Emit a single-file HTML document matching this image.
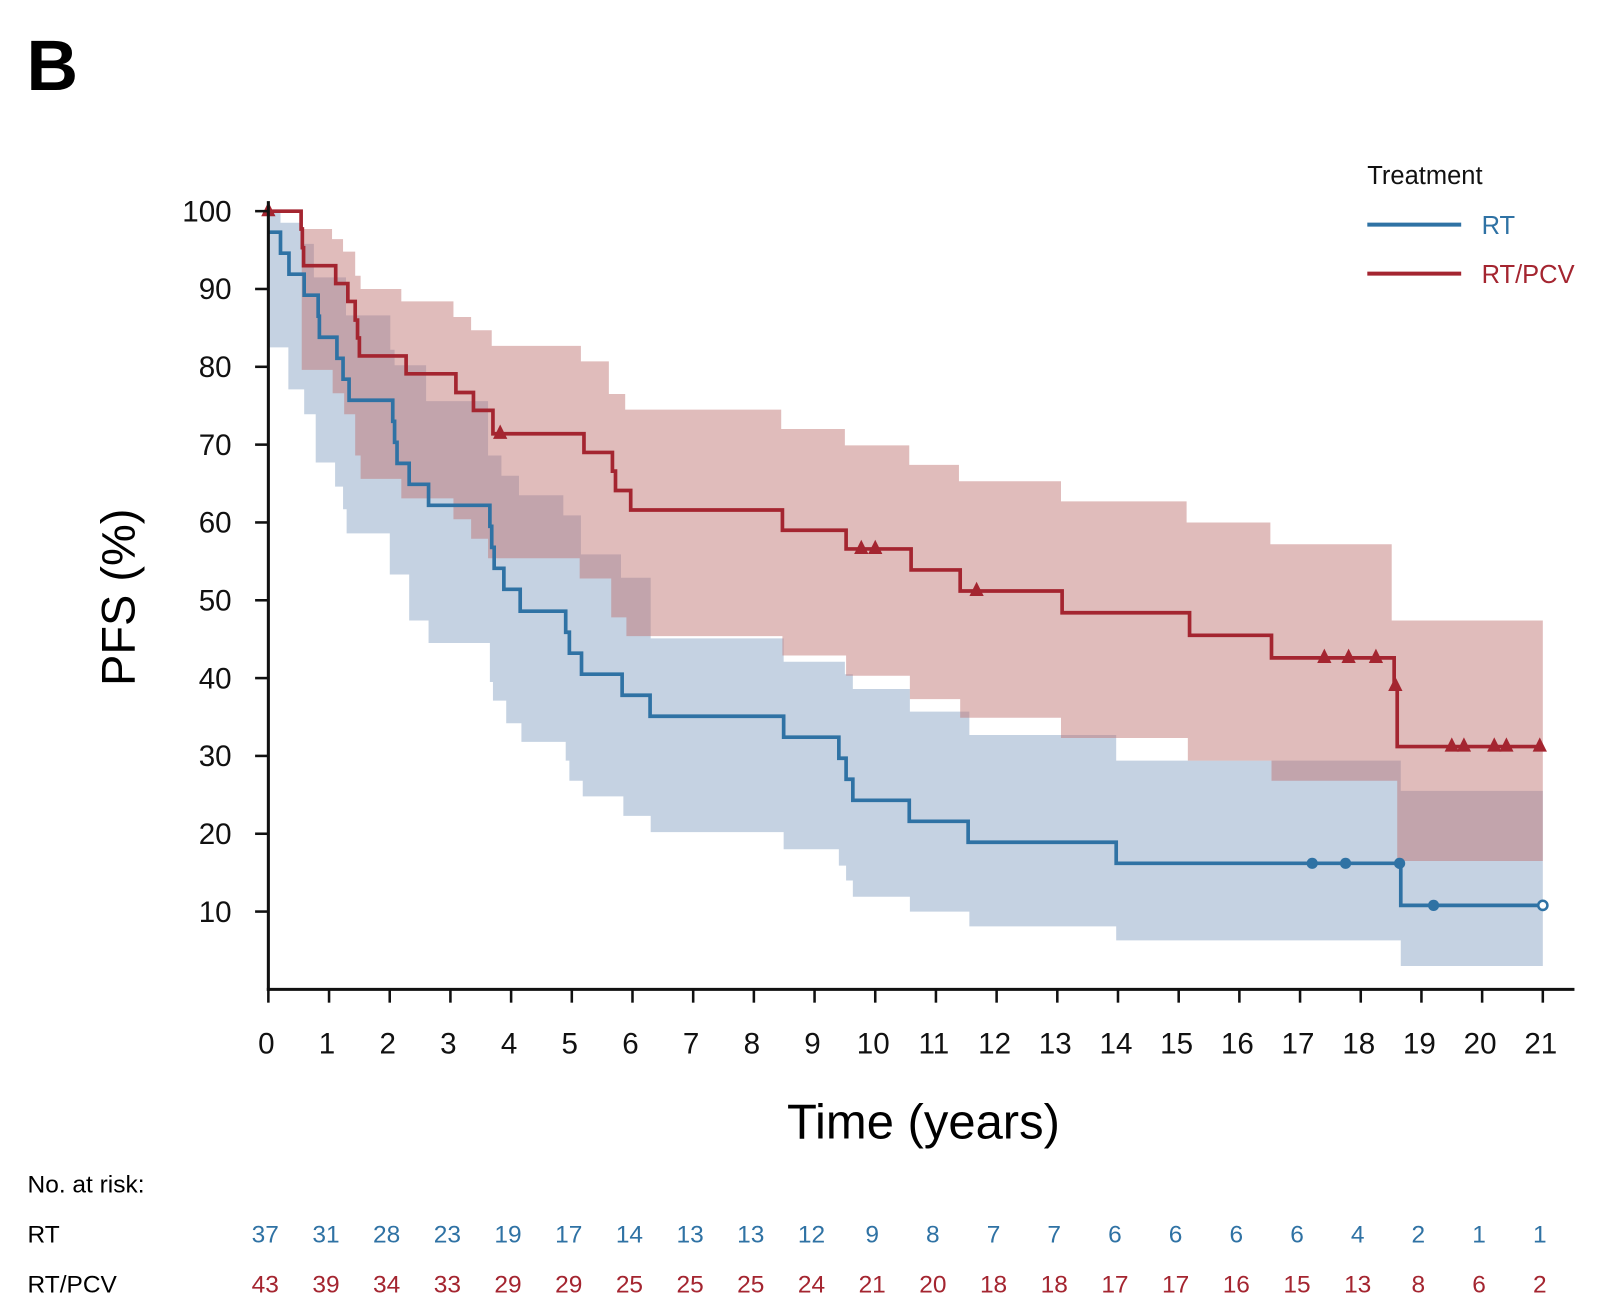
<!DOCTYPE html>
<html><head><meta charset="utf-8"><style>
html,body{margin:0;padding:0;background:#fff;}
svg{display:block;}
text{font-family:"Liberation Sans Narrow","Liberation Sans",sans-serif;}
</style></head><body>
<svg id="chart" width="1602" height="1310" viewBox="0 0 1570 1283" preserveAspectRatio="none" xmlns="http://www.w3.org/2000/svg">
<text x="26" y="88" font-size="70" font-weight="bold" font-family="Liberation Sans, sans-serif">B</text>
<text transform="translate(132,585) rotate(-90)" text-anchor="middle" font-size="46">PFS (%)</text>
<text x="905" y="1115" text-anchor="middle" font-size="48">Time (years)</text>
<g>
<text x="1340" y="180" font-size="25" fill="#111">Treatment</text>
<line x1="1340" y1="220" x2="1432" y2="220" stroke="#2f72a4" stroke-width="4"/>
<text x="1452" y="229" font-size="25" fill="#2f72a4">RT</text>
<line x1="1340" y1="268" x2="1432" y2="268" stroke="#a42530" stroke-width="4"/>
<text x="1452" y="277" font-size="25" fill="#a42530">RT/PCV</text>
</g>
<text x="27" y="1168" font-size="24">No. at risk:</text>
<text x="27" y="1217" font-size="24">RT</text>
<text x="27" y="1266" font-size="24">RT/PCV</text>
<g id="plot"></g>
</svg>
<script>
const xTicks=[0,1,2,3,4,5,6,7,8,9,10,11,12,13,14,15,16,17,18,19,20,21];
const yTicks=[10,20,30,40,50,60,70,80,90,100];
const riskRT=[37,31,28,23,19,17,14,13,13,12,9,8,7,7,6,6,6,6,4,2,1,1];
const riskPCV=[43,39,34,33,29,29,25,25,25,24,21,20,18,18,17,17,16,15,13,8,6,2];
const rtT=[0,0.2,0.34,0.59,0.82,0.84,1.13,1.23,1.33,2.05,2.08,2.12,2.32,2.64,3.65,3.68,3.72,3.88,4.15,4.9,4.96,5.16,5.83,6.29,8.49,9.4,9.52,9.63,10.56,11.53,13.97,18.66];
const rtS=[97.3,94.6,91.9,89.2,86.5,83.8,81.1,78.4,75.7,73.0,70.3,67.6,64.9,62.2,59.5,56.8,54.1,51.4,48.6,45.9,43.2,40.5,37.8,35.1,32.4,29.7,27.0,24.3,21.6,18.9,16.2,10.8];
const pcvT=[0,0.54,0.56,0.58,1.11,1.31,1.43,1.47,1.5,2.27,3.09,3.38,3.7,5.2,5.67,5.72,5.97,8.47,9.52,10.59,11.4,13.08,15.18,16.53,18.55,18.6];
const pcvS=[100,97.7,95.3,93.0,90.7,88.4,86.0,83.7,81.4,79.1,76.7,74.4,71.4,69.0,66.6,64.1,61.6,59.0,56.6,53.9,51.2,48.4,45.5,42.6,39.0,31.2];
const rtUpT=[0,0.2,0.55,0.75,1.28,2.01,2.08,2.6,3.62,3.84,4.13,4.86,5.15,5.81,6.3,8.49,9.5,9.63,10.57,11.55,13.97,18.66];
const rtUpV=[100,98.5,95.8,91.5,86.6,82.2,80.2,75.6,68.6,66,63.5,60.9,55.9,52.9,45.1,42.1,40.5,38.6,35.7,32.7,29.4,25.5];
const rtLoT=[0,0.33,0.59,0.78,1.1,1.23,1.29,2.0,2.32,2.64,3.65,3.7,3.92,4.17,4.9,4.96,5.18,5.85,6.3,8.49,9.4,9.52,9.63,10.57,11.55,13.97,18.66];
const rtLoV=[82.5,77.1,73.9,67.7,64.6,61.7,58.6,53.3,47.4,44.5,39.5,37.1,34.2,31.8,29.4,26.8,24.8,22.3,20.2,18.0,15.9,14.0,11.9,10.0,8.1,6.3,3.0];
const pcvUpT=[0,0.55,1.05,1.23,1.43,1.52,2.19,3.05,3.34,3.68,5.15,5.61,5.88,8.45,9.5,10.56,11.38,13.06,15.13,16.51,18.51];
const pcvUpV=[100,97.7,96.4,94.8,91.7,90.0,88.4,86.4,84.7,82.7,80.7,76.5,74.5,72.0,69.9,67.4,65.3,62.7,60.0,57.2,47.4];
const pcvLoT=[0,0.55,1.06,1.25,1.43,1.52,2.19,3.05,3.34,3.62,5.13,5.65,5.9,8.47,9.52,10.57,11.4,13.06,15.15,16.53,18.6];
const pcvLoV=[100,79.6,76.6,73.9,68.6,65.6,63.1,60.4,57.9,55.4,52.8,47.8,45.4,42.9,40.3,37.3,34.9,32.3,29.4,26.8,16.5];
const rtCens=[17.2,17.75,18.64,19.2];
const rtCensOpen=[21];
const pcvCens=[0,3.82,9.77,10.0,11.67,17.4,17.8,18.25,18.57,19.5,19.7,20.2,20.4,20.95];
const tMax=21;

const NS='http://www.w3.org/2000/svg';
const X0=263,X1=1512,Y0=969,YS=7.622;
function x(t){return X0+(X1-X0)*t/tMax;}
function y(v){return Y0-v*YS;}
function stepAt(T,V,t){let v=V[0];for(let i=0;i<T.length;i++){if(T[i]<=t)v=V[i];}return v;}
function stepPts(T,V){const p=[];for(let i=0;i<T.length;i++){const tEnd=i+1<T.length?T[i+1]:tMax;p.push([x(T[i]),y(V[i])],[x(tEnd),y(V[i])]);}return p;}
const plot=document.getElementById('plot');
function mk(tag,attrs){const e=document.createElementNS(NS,tag);for(const k in attrs)e.setAttribute(k,attrs[k]);plot.appendChild(e);return e;}

function band(upT,upV,loT,loV,fill,op,name){
  const up=stepPts(upT,upV),lo=stepPts(loT,loV).reverse();
  const pts=up.concat(lo).map(p=>p[0].toFixed(1)+','+p[1].toFixed(1)).join(' ');
  const e=mk('polygon',{points:pts,fill:fill,'fill-opacity':op});
  
  
}
band(rtUpT,rtUpV,rtLoT,rtLoV,'#c5d2e2',1,'rt-confidence-band');
band(pcvUpT,pcvUpV,pcvLoT,pcvLoV,'rgb(191,116,112)',0.48,'rtpcv-confidence-band');

function curve(T,V,color,name){
  const pts=stepPts(T,V);
  const d='M'+pts.map(p=>p[0].toFixed(1)+' '+p[1].toFixed(1)).join(' L');
  const e=mk('path',{d:d,fill:'none',stroke:color,'stroke-width':3.6});
  
  
}
curve(rtT,rtS,'#2f72a4','rt-curve');
curve(pcvT,pcvS,'#a42530','rtpcv-curve');

rtCens.forEach(t=>{
  const e=mk('circle',{cx:x(t),cy:y(stepAt(rtT,rtS,t)),r:5.5,fill:'#2f72a4'});
  
  
});
rtCensOpen.forEach(t=>{
  const e=mk('circle',{cx:x(t),cy:y(stepAt(rtT,rtS,t)),r:4.5,fill:'#fff',stroke:'#2f72a4','stroke-width':2.5});
  
  
});
pcvCens.forEach(t=>{
  const cx=x(t),cy=y(stepAt(pcvT,pcvS,t));
  const e=mk('polygon',{points:`${cx-7},${cy+5} ${cx+7},${cy+5} ${cx},${cy-9}`,fill:'#a42530'});
  
  
});

let ax=mk('line',{x1:X0,y1:197,x2:X0,y2:Y0+1.5,stroke:'#111','stroke-width':3});


ax=mk('line',{x1:X0-1.5,y1:Y0,x2:1543,y2:Y0,stroke:'#111','stroke-width':3});



yTicks.forEach(v=>{
  const tk=mk('line',{x1:X0-13,y1:y(v),x2:X0,y2:y(v),stroke:'#111','stroke-width':2.5});
  
  
  const tx=mk('text',{x:227,y:y(v)+10,'text-anchor':'end','font-size':29,fill:'#111'});
  tx.textContent=v;
  
  
});
xTicks.forEach((t,i)=>{
  const tk=mk('line',{x1:x(t),y1:Y0,x2:x(t),y2:Y0+13,stroke:'#111','stroke-width':2.5});
  
  
  const tx=mk('text',{x:x(t)-2,y:1032,'text-anchor':'middle','font-size':29,fill:'#111'});
  tx.textContent=t;
  
  
  const r1=mk('text',{x:x(t)-3,y:1217,'text-anchor':'middle','font-size':24,fill:'#2f72a4'});
  r1.textContent=riskRT[i];
  
  
  const r2=mk('text',{x:x(t)-3,y:1266,'text-anchor':'middle','font-size':24,fill:'#a42530'});
  r2.textContent=riskPCV[i];
  
  
});
</script>
</body></html>
